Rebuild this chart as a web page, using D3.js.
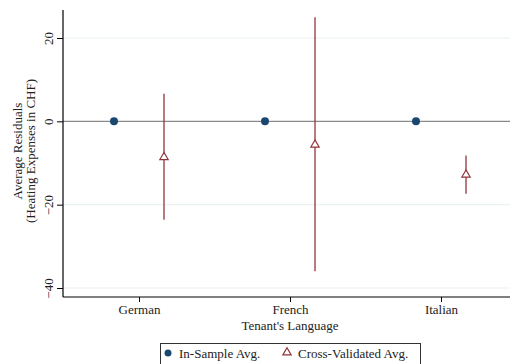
<!DOCTYPE html>
<html><head><meta charset="utf-8">
<script src="https://cdn.jsdelivr.net/npm/d3@7"></script>
<style>body{margin:0;background:#fff}svg{display:block}text{font-family:"Liberation Serif","DejaVu Serif",serif;fill:#222}</style>
</head><body>
<script>
const categories = ["German", "French", "Italian"];
const inSample = [0, 0, 0];
const crossVal = [-8.4, -5.4, -12.6];
const crossLo = [-23.6, -36, -17.4];
const crossHi = [6.6, 25, -8.2];
const yTicks = [20, 0, -20, -40];
const legendLabels = ["In-Sample Avg.", "Cross-Validated Avg."];

(function(){
const W = 510, H = 364;
const navy = "#1a476f", maroon = "#90353b";
const fs = 13;
const svg = d3.select("body").append("svg").attr("width", W).attr("height", H);

const pL = 63, pR = 510, pT = 10, pB = 297;
const x = d3.scaleLinear().domain([1, 3]).range([139, 441]);
const y = d3.scaleLinear().domain([-40, 20]).range([288, 38]);
const off = 0.1656;

// grid
svg.append("g").selectAll("line").data(yTicks.filter(d => d !== 0)).join("line")
  .attr("x1", pL).attr("x2", pR).attr("y1", d => y(d)).attr("y2", d => y(d))
  .attr("stroke", "#eaf2f3").attr("stroke-width", 1.2);
// zero line
svg.append("line").attr("x1", pL).attr("x2", pR).attr("y1", y(0)).attr("y2", y(0))
  .attr("stroke", "#8a8a8a").attr("stroke-width", 1.2);

// y axis
const yAxis = svg.append("g").attr("transform", `translate(${pL},0)`)
  .call(d3.axisLeft(y).tickValues(yTicks).tickSize(6).tickFormat(d3.format("d")));
yAxis.select(".domain").remove();
yAxis.append("line").attr("x1", 0).attr("x2", 0).attr("y1", pT).attr("y2", pB).attr("stroke", "#000").attr("stroke-width", 1.2);
yAxis.selectAll(".tick line").attr("stroke", "#000");
yAxis.selectAll(".tick text").attr("font-size", fs).attr("fill", "#222")
  .attr("font-family", '"Liberation Serif",serif')
  .attr("transform", "rotate(-90)").attr("x", 0).attr("y", -10).attr("dy", "0").attr("text-anchor", "middle");

// x axis
const xAxis = svg.append("g").attr("transform", `translate(0,${pB})`)
  .call(d3.axisBottom(x).tickValues([1, 2, 3]).tickSize(5).tickFormat((d, i) => categories[i]));
xAxis.select(".domain").remove();
xAxis.append("line").attr("x1", pL).attr("x2", pR).attr("stroke", "#000").attr("stroke-width", 1.2);
xAxis.selectAll(".tick line").attr("stroke", "#000");
xAxis.selectAll(".tick text").attr("font-size", fs).attr("fill", "#222")
  .attr("font-family", '"Liberation Serif",serif').attr("y", 8);

// axis titles
svg.append("text").attr("x", 290).attr("y", 330).attr("text-anchor", "middle").attr("font-size", fs).text("Tenant's Language");
svg.append("text").attr("transform", "translate(22,151) rotate(-90)").attr("text-anchor", "middle").attr("font-size", fs).text("Average Residuals");
svg.append("text").attr("transform", "translate(35,151) rotate(-90)").attr("text-anchor", "middle").attr("font-size", fs).text("(Heating Expenses in CHF)");

// CI lines
svg.append("g").selectAll("line").data(categories).join("line")
  .attr("x1", (d, i) => x(i + 1 + off)).attr("x2", (d, i) => x(i + 1 + off))
  .attr("y1", (d, i) => y(crossHi[i])).attr("y2", (d, i) => y(crossLo[i]))
  .attr("stroke", maroon).attr("stroke-width", 1.3);

// in-sample dots
svg.append("g").selectAll("circle").data(inSample).join("circle")
  .attr("cx", (d, i) => x(i + 1 - off)).attr("cy", d => y(d)).attr("r", 4).attr("fill", navy);

// triangles
const tri = d3.symbol().type(d3.symbolTriangle).size(30);
svg.append("g").selectAll("path").data(crossVal).join("path")
  .attr("d", tri).attr("transform", (d, i) => `translate(${x(i + 1 + off)},${y(d) + 0.8})`)
  .attr("fill", "#fff").attr("stroke", maroon).attr("stroke-width", 1.2);

// legend
const lg = svg.append("g");
lg.append("rect").attr("x", 160.5).attr("y", 343.5).attr("width", 260).attr("height", 30)
  .attr("fill", "#fff").attr("stroke", "#333").attr("stroke-width", 1);
lg.append("circle").attr("cx", 168).attr("cy", 353).attr("r", 3.5).attr("fill", navy);
lg.append("text").attr("x", 179).attr("y", 357.5).attr("font-size", fs).text(legendLabels[0]);
lg.append("path").attr("d", tri).attr("transform", "translate(287,352.5)").attr("fill", "#fff").attr("stroke", maroon).attr("stroke-width", 1.2);
lg.append("text").attr("x", 298).attr("y", 357.5).attr("font-size", fs).text(legendLabels[1]);
})();
</script>
</body></html>
